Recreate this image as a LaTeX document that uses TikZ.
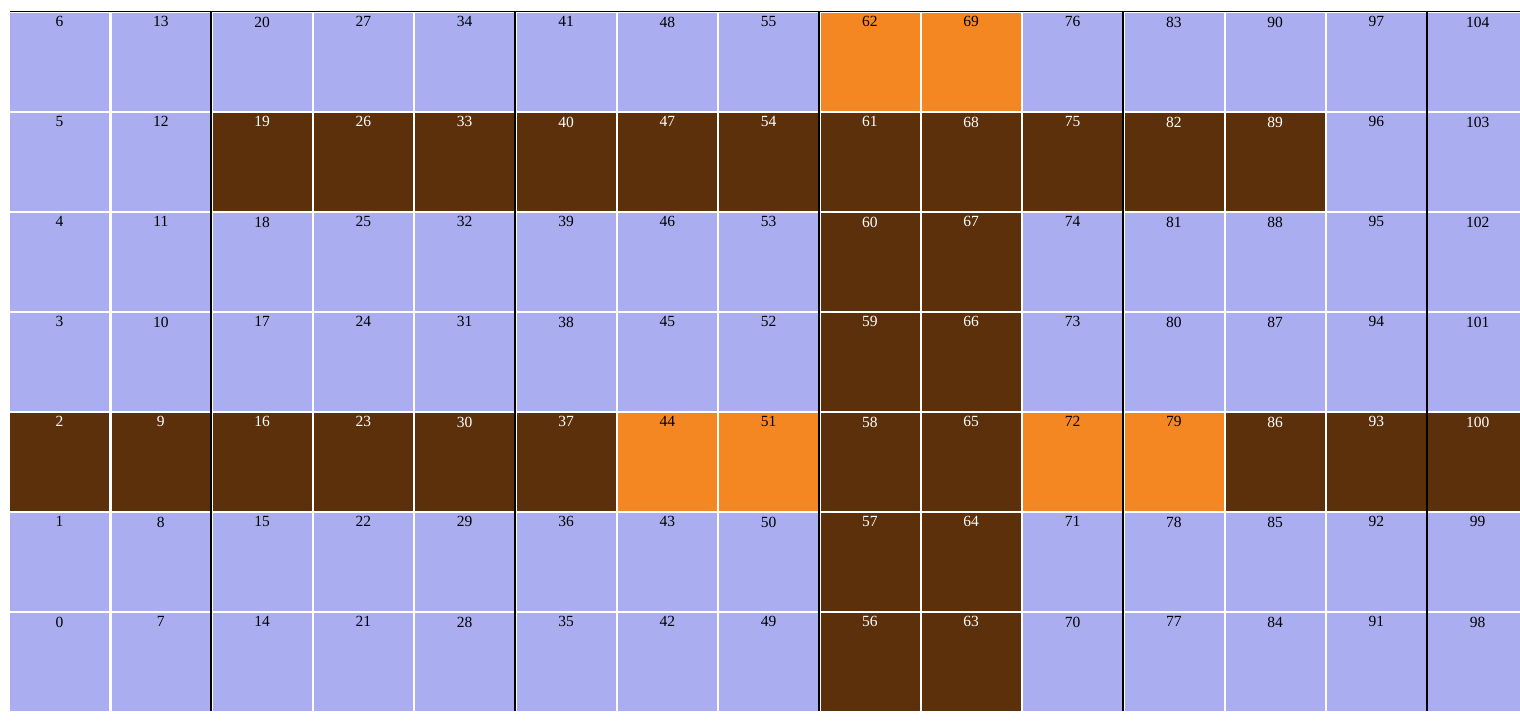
\documentclass[tikz,border=0pt]{standalone}
\usepackage{fontspec}
\setmainfont{Liberation Serif}
\definecolor{lb}{HTML}{AAAEF0}
\definecolor{br}{HTML}{5C300B}
\definecolor{orn}{HTML}{F58722}
\begin{document}
\begin{tikzpicture}[x=1pt,y=-1pt,
  cell/.style={minimum width=99pt, minimum height=98pt, inner sep=0pt, anchor=north west, draw=none},
  num/.style={font=\fontsize{15.5}{17}\selectfont, anchor=north, inner sep=0pt},
  sep/.style={draw=black, line width=2pt},
  topline/.style={draw=black, line width=1.5pt}]
\useasboundingbox (0,0) rectangle (1520,720);
\fill[white] (0,0) rectangle (1520,720);
\begin{scope}
\clip (0,0) rectangle (1520,720);
\foreach \c in {0,...,14}{
  \foreach \r in {0,...,6}{
    \pgfmathtruncatemacro\n{7*\c+\r}
    \def\fillc{lb}\def\txtc{black}
    \ifnum\r=2 \def\fillc{br}\def\txtc{white}\fi
    \ifnum\r=5 \ifnum\c>1 \ifnum\c<13 \def\fillc{br}\def\txtc{white}\fi\fi\fi
    \ifnum\c=8 \ifnum\r<6 \def\fillc{br}\def\txtc{white}\fi\fi
    \ifnum\c=9 \ifnum\r<6 \def\fillc{br}\def\txtc{white}\fi\fi
    \ifnum\r=6 \ifnum\c=8 \def\fillc{orn}\def\txtc{black}\fi\ifnum\c=9 \def\fillc{orn}\def\txtc{black}\fi\fi
    \ifnum\r=2
      \ifnum\c=6 \def\fillc{orn}\def\txtc{black}\fi
      \ifnum\c=7 \def\fillc{orn}\def\txtc{black}\fi
      \ifnum\c=10 \def\fillc{orn}\def\txtc{black}\fi
      \ifnum\c=11 \def\fillc{orn}\def\txtc{black}\fi
    \fi
    \node[cell, fill=\fillc] (c\c-\r) at ({10+101.3*\c},{12.5+100*(6-\r)}) {};
    \node[num, text=\txtc] (t\n) at ({10+101.3*\c+49.5},{12.5+100*(6-\r)+4}) {\n};
  }
}
\foreach \k in {2,5,8,11,14}{
  \coordinate (s\k a) at ({10+101.3*\k-1.15},11);
  \coordinate (s\k b) at ({10+101.3*\k-1.15},711);
  \draw[sep] (s\k a) -- (s\k b);
}
\coordinate (ta) at (10,11.3);
\coordinate (tb) at (1520,11.3);
\draw[topline] (ta) -- (tb);
\end{scope}
\end{tikzpicture}
\end{document}
